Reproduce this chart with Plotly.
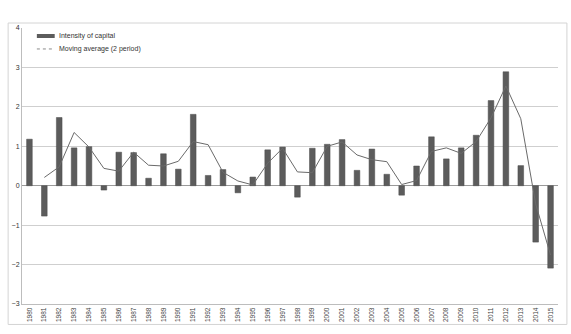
import plotly.graph_objects as go

years = [str(y) for y in range(1980, 2016)]
intensity = [1.18, -0.77, 1.73, 0.96, 0.99, -0.11, 0.85, 0.84, 0.19, 0.81, 0.42, 1.81,
             0.26, 0.41, -0.18, 0.22, 0.91, 0.98, -0.29, 0.95, 1.05, 1.17, 0.39, 0.93,
             0.29, -0.24, 0.50, 1.24, 0.68, 0.96, 1.28, 2.16, 2.89, 0.51, -1.43, -2.09]
mov_avg_years = years[1:]
mov_avg = [0.21, 0.48, 1.35, 0.98, 0.44, 0.37, 0.85, 0.52, 0.50, 0.62, 1.12, 1.04,
           0.34, 0.12, 0.02, 0.57, 0.95, 0.35, 0.33, 1.00, 1.11, 0.78, 0.66, 0.61,
           0.03, 0.13, 0.87, 0.96, 0.82, 1.12, 1.72, 2.53, 1.70, -0.46, -1.76]
y_ticks = [-3, -2, -1, 0, 1, 2, 3, 4]
legend_names = ["Intensity of capital", "Moving average (2 period)"]

BAR = "#5c5c5c"
LINE = "#6a6a6a"
FONT = "Liberation Sans"

# plot area in pixels (for paper-coordinate placement of legend/frame)
L, R, T, B = 17, 558, 28, 304.5
def px(x):
    return (x - L) / (R - L)
def py(y):
    return (B - y) / (B - T)

fig = go.Figure()
fig.add_trace(go.Bar(x=years, y=intensity, marker=dict(color=BAR, line=dict(color="#4a4a4a", width=0.5)),
                     showlegend=False, name=legend_names[0]))
fig.add_trace(go.Scatter(x=mov_avg_years, y=mov_avg, mode="lines", showlegend=False,
                         line=dict(color=LINE, width=1), name=legend_names[1]))

# outer chart frame
fig.add_shape(type="rect", xref="paper", yref="paper", x0=px(3), x1=px(567), y0=py(325), y1=py(23),
              line=dict(color="#d4d4d4", width=1), layer="below")

# manual legend
fig.add_shape(type="line", xref="paper", yref="paper", x0=px(32), x1=px(50), y0=py(36), y1=py(36),
              line=dict(color=BAR, width=4))
fig.add_shape(type="line", xref="paper", yref="paper", x0=px(32), x1=px(50), y0=py(49), y1=py(49),
              line=dict(color="#8a8a8a", width=1, dash="dot"))
for name, yy in zip(legend_names, [36, 49]):
    fig.add_annotation(xref="paper", yref="paper", x=px(52.5), y=py(yy), text=name, showarrow=False,
                       xanchor="left", yanchor="middle", font=dict(size=7, color="#333"))

fig.update_layout(
    width=571, height=334,
    margin=dict(l=L, r=571 - R, t=T, b=334 - B),
    paper_bgcolor="white", plot_bgcolor="white",
    bargap=0.62,
    showlegend=False,
    font=dict(family=FONT, size=7, color="#333"),
    xaxis=dict(type="category", tickangle=-90, tickfont=dict(size=6.5, color="#444"),
               showline=True, linecolor="#bdbdbd", linewidth=1, showgrid=False,
               ticks="", mirror=False, ticklen=0),
    yaxis=dict(range=[-3, 4], tickvals=y_ticks, tickfont=dict(size=7, color="#333"),
               showgrid=True, gridcolor="#cfcfcf", gridwidth=1,
               zeroline=True, zerolinecolor="#9a9a9a", zerolinewidth=1,
               showline=True, linecolor="#bdbdbd", linewidth=1, ticks=""),
)

fig.write_html("out.html")
